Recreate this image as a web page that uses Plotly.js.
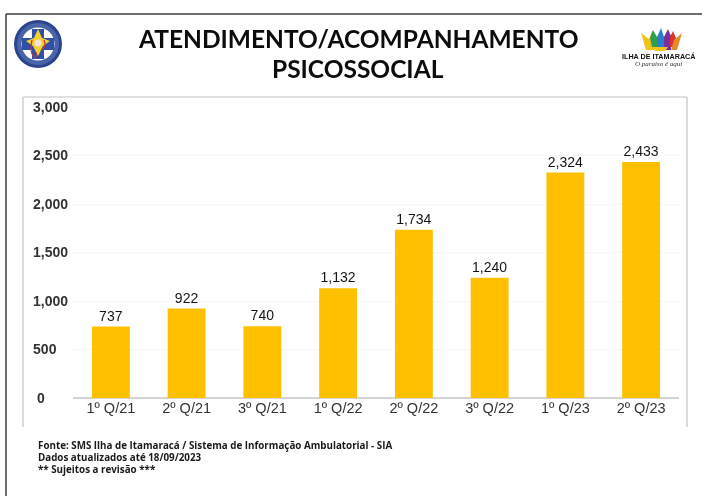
<!DOCTYPE html>
<html><head><meta charset="utf-8">
<script src="https://cdn.plot.ly/plotly-3.0.1.min.js"></script>
<style>html,body{margin:0;padding:0;background:#fff}#c{width:702px;height:496px;filter:blur(0.45px)}</style>
</head><body><div id="c"></div>
<script>
const categories = ["1º Q/21","2º Q/21","3º Q/21","1º Q/22","2º Q/22","3º Q/22","1º Q/23","2º Q/23"];
const values = [737,922,740,1132,1734,1240,2324,2433];
const tickValues = [0,500,1000,1500,2000,2500,3000];
const tickLabels = ["0","500","1,000","1,500","2,000","2,500","3,000"];
const titleLines = ["ATENDIMENTO/ACOMPANHAMENTO","PSICOSSOCIAL"];
const footerLines = ["Fonte: SMS Ilha de Itamaracá / Sistema de Informação Ambulatorial - SIA","Dados atualizados até 18/09/2023","** Sujeitos a revisão ***"];

const W=702,H=496;
const px=x=>x/W, py=y=>1-y/H;
const P=(d)=>d.replace(/(-?[\d.]+),(-?[\d.]+)/g,(m,a,b)=>px(+a)+','+py(+b));
const line=(x0,y0,x1,y1,color,width)=>({type:'line',xref:'paper',yref:'paper',x0:px(x0),x1:px(x1),y0:py(y0),y1:py(y1),line:{color,width},layer:'below'});
const circle=(cx,cy,r,fill,stroke,sw)=>({type:'circle',xref:'paper',yref:'paper',x0:px(cx-r),x1:px(cx+r),y0:py(cy-r),y1:py(cy+r),fillcolor:fill,line:{color:stroke||fill,width:sw||0},layer:'above'});
const poly=(d,fill)=>({type:'path',xref:'paper',yref:'paper',path:P(d),fillcolor:fill,line:{color:fill,width:0},layer:'above'});
const strokePath=(d,color,width,dash)=>({type:'path',xref:'paper',yref:'paper',path:P(d),line:{color,width,dash:dash||'solid'},layer:'above'});

const shapes=[
 line(6,14,702,14,'#3c3c3c',1.5),
 line(6,14,6,496,'#3c3c3c',1.5),
 line(23,97,687,97,'#c4c4c4',1.2),
 line(23,97,23,427,'#c4c4c4',1.2),
 line(687,97,687,427,'#c4c4c4',1.2),
 // health secretariat seal
 circle(38,44,24,'#2b4490'),
 circle(38,44,21,'#4b63a8'),
 circle(38,44,16.5,'#ffffff'),
 strokePath('M19,44 A19,19 0 1 1 57,44 A19,19 0 1 1 19,44 Z','#e8ecf5',2,'dot'),
 poly('M32,29 L44,29 L44,38 L54,38 L54,50 L44,50 L44,59 L32,59 L32,50 L22,50 L22,38 L32,38 Z','#2f4fa8'),
 poly('M38,29 L42,38 L50,41 L43,46 L38,56 L33,46 L26,41 L34,38 Z','#f5cf2a'),
 circle(38,43,3.5,'#f2e2d0'),
 strokePath('M32,40 Q29,52 34,57 Q37,59 36,52 M44,40 Q47,48 41,50','#b33a3a',1.3),
 // municipality crown
 poly('M641,33 L649,39 L652,31 L655,37 L655,50 L646,50 Z','#f0c419'),
 poly('M650,38 L653,30 L657,37 L658,47 L652,47 Z','#2e9e4f'),
 poly('M657,37 L661,28 L664,37 L665,50 L657,50 Z','#2b7fc9'),
 poly('M664,37 L668,29 L671,36 L671,50 L664,50 Z','#7a2f9e'),
 poly('M670,37 L673,31 L676,38 L673,47 L670,47 Z','#d8342c'),
 poly('M674,40 L682,33 L677,50 L671,50 Z','#e58a2c'),
 poly('M652,47 L668,47 L665,51 L655,51 Z','#f0c419')
];

const annotations=[
 ...titleLines.map((t,i)=>({text:t,xref:'paper',yref:'paper',x:px(358),y:py(39+i*29.5),xanchor:'center',yanchor:'middle',showarrow:false,font:{family:'Lato, sans-serif',size:24.5,color:'#0c0c0c',weight:700}})),
 ...footerLines.map((t,i)=>({text:t,xref:'paper',yref:'paper',x:px(36),y:py([445,457,469][i]),xanchor:'left',yanchor:'middle',showarrow:false,font:{family:'Open Sans, sans-serif',size:9.8,color:'#1a1a1a',weight:700}})),
 {text:'ILHA DE ITAMARACÁ',xref:'paper',yref:'paper',x:px(658),y:py(57),xanchor:'center',yanchor:'middle',showarrow:false,font:{family:'Liberation Sans, sans-serif',size:7.2,color:'#111',weight:700}},
 {text:'<i>O paraíso é aqui</i>',xref:'paper',yref:'paper',x:px(658),y:py(63.5),xanchor:'center',yanchor:'middle',showarrow:false,font:{family:'Liberation Serif, serif',size:7,color:'#333'}}
];

// The reference sets the value labels flush left, so each one is padded to the widest.
const padded=tickLabels.map(s=>{
  const w=[...s].reduce((a,c)=>a+(c===','?1:2),0);
  const n=s==='0'?9:10;
  return s+'\u00a0'.repeat(n-w);
});

Plotly.newPlot('c',[{
  type:'bar',x:categories,y:values,
  marker:{color:'#ffc000',line:{width:0}},
  text:values.map(v=>v.toLocaleString('en-US')),
  textposition:'outside',cliponaxis:false,
  textfont:{family:'Liberation Sans, sans-serif',size:14,color:'#151515'},
  hoverinfo:'skip'
}],{
  width:W,height:H,margin:{l:0,r:0,t:0,b:0,pad:0},
  paper_bgcolor:'#fff',plot_bgcolor:'#fff',showlegend:false,bargap:0.5,
  xaxis:{domain:[px(73),px(679)],type:'category',showgrid:false,zeroline:false,showline:false,ticks:'',
    tickfont:{family:'Liberation Sans, sans-serif',size:14.5,color:'#333333'},ticklabelstandoff:-1},
  yaxis:{domain:[py(398),py(107)],range:[0,3000],tickmode:'array',tickvals:tickValues,ticktext:padded,
    showgrid:true,gridcolor:'#f7f7f7',gridwidth:1,zeroline:true,zerolinecolor:'#d4d4d4',zerolinewidth:1.5,showline:false,ticks:'',
    tickfont:{family:'Liberation Sans, sans-serif',size:14,color:'#333333',weight:700}},
  shapes,annotations
},{displayModeBar:false,staticPlot:true});
</script></body></html>
